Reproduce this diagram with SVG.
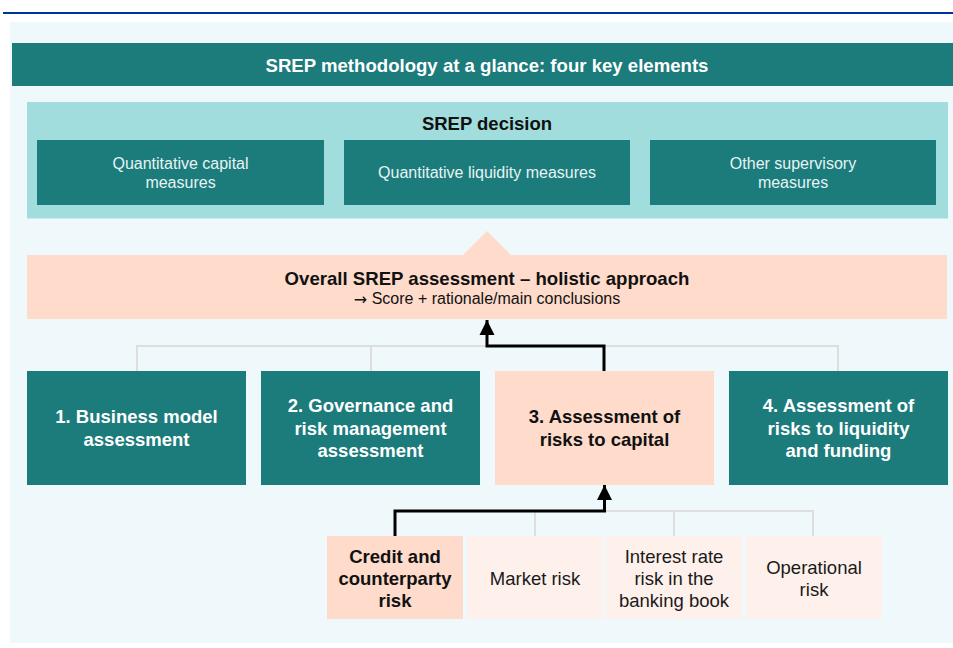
<svg xmlns="http://www.w3.org/2000/svg" width="953" height="648" viewBox="0 0 953 648">
<style>
text{font-family:"Liberation Sans",Arial,sans-serif;text-anchor:middle;dominant-baseline:central}
.teal{fill:#1c7b7b}
.peach{fill:#fedbcb}
.pale{fill:#fef0eb}
.wb{fill:#ffffff;font-weight:bold;font-size:18.5px}
.bb{fill:#111111;font-weight:bold;font-size:18.5px}
.sub{fill:#e6f4f4;font-size:16px}
.rr{fill:#1a1a1a;font-size:18.5px}
.grey{fill:none;stroke:#dedede;stroke-width:2}
.blk{fill:none;stroke:#000;stroke-width:3}
</style>
<defs>
<marker id="ah" viewBox="0 0 10 10" refX="10" refY="5" markerWidth="15" markerHeight="17" markerUnits="userSpaceOnUse" orient="auto">
<path d="M0,0 L10,5 L0,10 z" fill="#000"/>
</marker>
</defs>
<rect x="0" y="0" width="953" height="648" fill="#ffffff"/>
<rect x="3" y="12" width="950" height="2" fill="#003299"/>
<rect x="10" y="22" width="943" height="621" fill="#eff8fa"/>
<g id="title">
<rect x="12" y="43" width="941" height="43" class="teal"/>
<text x="487" y="65" class="wb" style="font-size:18.6px">SREP methodology at a glance: four key elements</text>
</g>
<g id="srep-decision">
<rect x="27" y="102" width="921" height="116.5" fill="#a1dddd"/>
<text x="487" y="123.5" class="bb">SREP decision</text>
</g>
<g id="capital-measures">
<rect x="37" y="140" width="287" height="65" class="teal"/>
<text x="180.5" y="163" class="sub">Quantitative capital</text>
<text x="180.5" y="182" class="sub">measures</text>
</g>
<g id="liquidity-measures">
<rect x="344" y="140" width="286" height="65" class="teal"/>
<text x="487" y="172.5" class="sub">Quantitative liquidity measures</text>
</g>
<g id="other-measures">
<rect x="650" y="140" width="286" height="65" class="teal"/>
<text x="793" y="163" class="sub">Other supervisory</text>
<text x="793" y="182" class="sub">measures</text>
</g>
<g id="overall">
<path d="M27,255 H463 L487,231 L511,255 H947 V319 H27 Z" class="peach"/>
<text x="487" y="278" class="bb" style="font-size:18.6px">Overall SREP assessment – holistic approach</text>
<text x="487" y="298.5" style="fill:#111;font-size:16px"><tspan style="font-family:'DejaVu Sans',sans-serif;font-size:16px">→</tspan> Score + rationale/main conclusions</text>
</g>
<g id="connectors">
<path d="M137,371 V346 H838 V371 M371,346 V371" class="grey"/>
<path d="M535,536 V511 H813 V536 M674,511 V536" class="grey"/>
<path d="M604,371 V346 H487 V320" class="blk" marker-end="url(#ah)"/>
<path d="M395,536 V511 H604.5 V485" class="blk" marker-end="url(#ah)"/>
</g>
<g id="business-model">
<rect x="27" y="371" width="219" height="114" class="teal"/>
<text x="136.5" y="416.5" class="wb">1. Business model</text>
<text x="136.5" y="439.5" class="wb">assessment</text>
</g>
<g id="governance">
<rect x="261" y="371" width="219" height="114" class="teal"/>
<text x="370.5" y="405.5" class="wb">2. Governance and</text>
<text x="370.5" y="428" class="wb">risk management</text>
<text x="370.5" y="450.5" class="wb">assessment</text>
</g>
<g id="risks-capital">
<rect x="495" y="371" width="219" height="114" class="peach"/>
<text x="604.5" y="416.5" class="bb">3. Assessment of</text>
<text x="604.5" y="439.5" class="bb">risks to capital</text>
</g>
<g id="risks-liquidity">
<rect x="729" y="371" width="219" height="114" class="teal"/>
<text x="838.5" y="405.5" class="wb">4. Assessment of</text>
<text x="838.5" y="428" class="wb">risks to liquidity</text>
<text x="838.5" y="450.5" class="wb">and funding</text>
</g>
<g id="credit-risk">
<rect x="327" y="536" width="136" height="83" class="peach"/>
<text x="395" y="556.5" class="bb">Credit and</text>
<text x="395" y="578.5" class="bb">counterparty</text>
<text x="395" y="600.5" class="bb">risk</text>
</g>
<g id="market-risk">
<rect x="467" y="536" width="136" height="83" class="pale"/>
<text x="535" y="578" class="rr">Market risk</text>
</g>
<g id="irrbb">
<rect x="606" y="536" width="136" height="83" class="pale"/>
<text x="674" y="556.5" class="rr">Interest rate</text>
<text x="674" y="578.5" class="rr">risk in the</text>
<text x="674" y="600.5" class="rr">banking book</text>
</g>
<g id="operational-risk">
<rect x="746" y="536" width="136" height="83" class="pale"/>
<text x="814" y="567" class="rr">Operational</text>
<text x="814" y="589" class="rr">risk</text>
</g>
</svg>
